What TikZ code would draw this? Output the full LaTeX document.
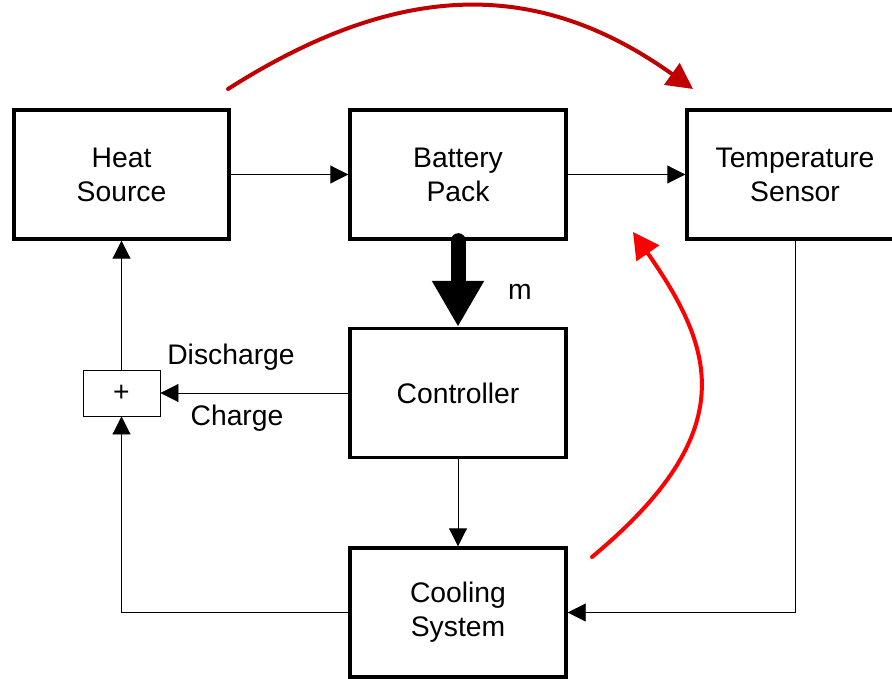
\documentclass[tikz,border=0pt]{standalone}
\usepackage{fontspec}
\setmainfont{Liberation Sans}
\usetikzlibrary{arrows.meta}
\tikzset{
  block/.style={draw, line width=3.4pt, minimum width=216pt, minimum height=129pt,
    inner sep=0pt, align=center, font=\fontsize{28.3}{34}\selectfont},
  sumbox/.style={draw, line width=0.9pt, minimum width=77pt, minimum height=46pt,
    inner sep=0pt, font=\fontsize{28.3}{34}\selectfont},
  conn/.style={line width=0.9pt, -{Triangle[length=18pt,width=18pt]}},
  lbl/.style={font=\fontsize{28.3}{34}\selectfont, inner sep=0pt},
  bigarrow/.style={line width=15pt, line cap=round, -{Triangle[length=46pt,width=49pt]}},
  arcdark/.style={draw=darkarc, line width=4pt, line cap=round, -{Triangle[length=26pt,width=26pt]}},
  arcred/.style={draw=brightarc, line width=4pt, line cap=round, -{Triangle[length=26pt,width=27pt]}},
}
\definecolor{darkarc}{HTML}{C00000}
\definecolor{brightarc}{HTML}{FF0000}
\begin{document}
\begin{tikzpicture}[x=1pt,y=-1pt]
\useasboundingbox (0,0) rectangle (892,679);
\clip (0,0) rectangle (892,679);
\node[block, minimum width=215pt] (heat) at (121.5,174.5) {Heat\\Source};
\node[block] (battery) at (458,174.5) {Battery\\Pack};
\node[block] (temp) at (795,174.5) {Temperature\\Sensor};
\node[block] (controller) at (458,393) {Controller};
\node[block] (cooling) at (458,612.5) {Cooling\\System};
\node[sumbox] (plus) at (121.5,393) {+};

\node[lbl] (dis) at (231,357) {Discharge};
\node[lbl] (chg) at (237,418) {Charge};
\node[lbl] (m) at (520,292) {m};

\draw[conn] (heat.east) -- (battery.west);
\draw[conn] (battery.east) -- (temp.west);
\draw[bigarrow] (battery.south) -- (controller.north);
\draw[conn] (controller.west) -- (plus.east);
\draw[conn] (plus.north) -- (heat.south);
\draw[conn] (cooling.west) -| (plus.south);
\draw[conn] (controller.south) -- (cooling.north);
\draw[conn] (temp.south) |- (cooling.east);

\coordinate (a1s) at (228,89);
\coordinate (a1e) at (693,89);
\coordinate (a2s) at (592,557);
\coordinate (a2e) at (633,232);
\draw[arcdark] (a1s) .. controls (401,-21) and (539,-21) .. (a1e);
\draw[arcred] (a2s) .. controls (745,430) and (713,347) .. (a2e);
\end{tikzpicture}
\end{document}
